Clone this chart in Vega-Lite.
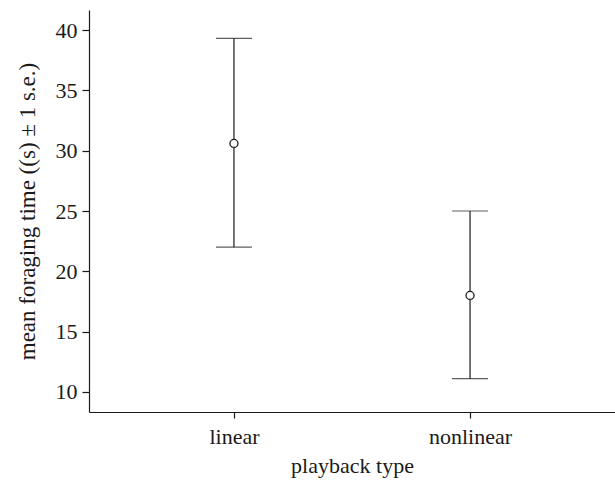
{
  "$schema": "https://vega.github.io/schema/vega-lite/v6.json",
  "width": 526,
  "height": 402,
  "autosize": "none",
  "padding": {"left": 89, "top": 10, "right": 0, "bottom": 69},
  "background": "white",
  "config": {
    "view": {"stroke": null},
    "font": "Liberation Serif",
    "axis": {
      "labelFont": "Liberation Serif",
      "titleFont": "Liberation Serif",
      "labelFontSize": 22,
      "titleFontSize": 22,
      "titleFontWeight": "normal",
      "labelColor": "#1a1a1a",
      "titleColor": "#1a1a1a",
      "domainColor": "#1a1a1a",
      "tickColor": "#1a1a1a",
      "domainWidth": 1.2,
      "tickWidth": 1.2,
      "grid": false
    }
  },
  "data": {
    "values": [
      {"type": "linear", "mean": 30.6, "lo": 22.0, "hi": 39.3},
      {"type": "nonlinear", "mean": 18.0, "lo": 11.1, "hi": 25.0}
    ]
  },
  "encoding": {
    "x": {
      "field": "type",
      "type": "nominal",
      "scale": {"type": "point", "padding": 0.614},
      "axis": {"title": "playback type", "labelAngle": 0, "tickSize": 6, "labelPadding": 8, "titlePadding": 8}
    }
  },
  "layer": [
    {
      "mark": {"type": "rule", "color": "#1a1a1a", "strokeWidth": 1.2},
      "encoding": {
        "y": {
          "field": "lo",
          "type": "quantitative",
          "scale": {"domain": [8.34, 41.66], "nice": false, "zero": false},
          "axis": {"title": "mean foraging time ((s) ± 1 s.e.)", "titleFontSize": 23, "values": [10, 15, 20, 25, 30, 35, 40], "tickSize": 7, "labelPadding": 5, "titlePadding": 16}
        },
        "y2": {"field": "hi"}
      }
    },
    {
      "mark": {"type": "tick", "color": "#1a1a1a", "size": 36, "thickness": 1.2},
      "encoding": {"y": {"field": "lo", "type": "quantitative"}}
    },
    {
      "mark": {"type": "tick", "color": "#1a1a1a", "size": 36, "thickness": 1.2},
      "encoding": {"y": {"field": "hi", "type": "quantitative"}}
    },
    {
      "mark": {"type": "point", "shape": "circle", "filled": true, "fill": "white", "stroke": "#1a1a1a", "strokeWidth": 1.3, "size": 64, "opacity": 1},
      "encoding": {"y": {"field": "mean", "type": "quantitative"}}
    }
  ]
}
